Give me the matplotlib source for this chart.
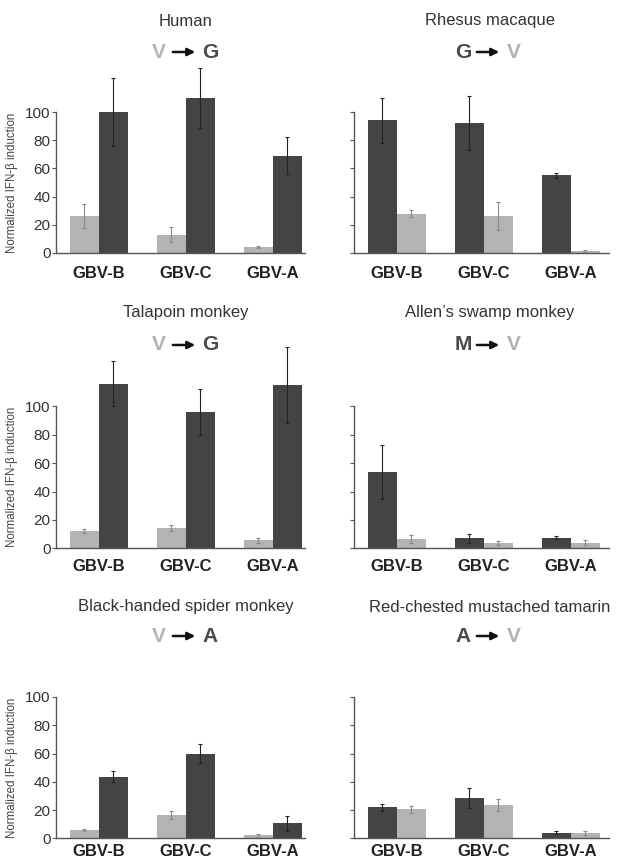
import matplotlib
matplotlib.use("Agg")
import matplotlib.pyplot as plt
import numpy as np
from matplotlib.patches import FancyArrowPatch

plt.rcParams['font.family'] = ['Liberation Sans', 'DejaVu Sans']

categories = ["GBV-B", "GBV-C", "GBV-A"]

titles = ["Human", "Rhesus macaque", "Talapoin monkey", "Allen\u2019s swamp monkey",
          "Black-handed spider monkey", "Red-chested mustached tamarin"]
from_res = ["V", "G", "V", "M", "V", "A"]
to_res = ["G", "V", "G", "V", "A", "V"]

# first bar (residue before) and second bar (residue after)
human_first = [26, 13, 4.5]
human_first_err = [8.5, 5.5, 0.7]
human_second = [100, 110, 69]
human_second_err = [24, 21, 13]

rhesus_first = [94, 92, 55]
rhesus_first_err = [16, 19, 2]
rhesus_second = [28, 26, 1.5]
rhesus_second_err = [2.5, 10, 0.5]

talapoin_first = [12, 14.5, 5.5]
talapoin_first_err = [1.5, 2, 1.5]
talapoin_second = [116, 96, 115]
talapoin_second_err = [16, 16, 27]

allen_first = [54, 7, 7.5]
allen_first_err = [19, 3, 1]
allen_second = [6.5, 3.5, 4]
allen_second_err = [3, 1.5, 1.5]

spider_first = [6, 16.5, 2]
spider_first_err = [0.7, 3, 0.8]
spider_second = [43.5, 60, 10.5]
spider_second_err = [4, 7, 5]

tamarin_first = [22, 28.5, 4]
tamarin_first_err = [2.5, 7, 1]
tamarin_second = [20.5, 23.5, 4]
tamarin_second_err = [2.5, 4.5, 1.5]

panels = [
    (human_first, human_first_err, human_second, human_second_err),
    (rhesus_first, rhesus_first_err, rhesus_second, rhesus_second_err),
    (talapoin_first, talapoin_first_err, talapoin_second, talapoin_second_err),
    (allen_first, allen_first_err, allen_second, allen_second_err),
    (spider_first, spider_first_err, spider_second, spider_second_err),
    (tamarin_first, tamarin_first_err, tamarin_second, tamarin_second_err),
]

LIGHT = "#b3b3b3"
DARK = "#444444"
LIGHT_ERR = "#8a8a8a"
DARK_ERR = "#222222"

W, H = 617, 864
fig = plt.figure(figsize=(W / 100, H / 100), dpi=100)

col_x = [(56, 305, (-0.494, 2.37)), (354, 609, (-0.49, 2.44))]
row_y = [(253, 112), (548.3, 406.3), (838.3, 697)]
title_y = [21, 312, 607]
sub_y = [52, 345, 636]
title_x = [186, 490]
xpad = [9, 8, 4]

bw = 0.333
x = np.arange(len(categories))

for i, (f, fe, s, se) in enumerate(panels):
    r, c = divmod(i, 2)
    xl, xr, xlim = col_x[c]
    y0, y100 = row_y[r]
    ax = fig.add_axes([xl / W, 1 - y0 / H, (xr - xl) / W, (y0 - y100) / H])
    ax.set_xlim(*xlim)
    ax.set_ylim(0, 100)
    c1 = LIGHT if from_res[i] == "V" else DARK
    c2 = LIGHT if to_res[i] == "V" else DARK
    e1 = LIGHT_ERR if from_res[i] == "V" else DARK_ERR
    e2 = LIGHT_ERR if to_res[i] == "V" else DARK_ERR
    ax.bar(x - bw / 2, f, bw, color=c1, clip_on=False, zorder=2)
    ax.bar(x + bw / 2, s, bw, color=c2, clip_on=False, zorder=2)
    for xs, v, e, ec in [(x - bw / 2, f, fe, e1), (x + bw / 2, s, se, e2)]:
        eb = ax.errorbar(xs, v, yerr=e, fmt="none", ecolor=ec, elinewidth=0.8,
                         capsize=1.5, capthick=0.8, zorder=3)
        for art in list(eb.lines[1]) + list(eb.lines[2]):
            art.set_clip_on(False)
    for sp in ["top", "right"]:
        ax.spines[sp].set_visible(False)
    for sp in ["left", "bottom"]:
        ax.spines[sp].set_color("#555555")
        ax.spines[sp].set_linewidth(1.0)
    ax.spines["left"].set_bounds(0, 100)
    ax.set_yticks([0, 20, 40, 60, 80, 100])
    ax.tick_params(axis="y", direction="out", length=3, width=0.8, color="#555555",
                   pad=1, labelsize=11, labelcolor="#333333")
    if c == 1:
        ax.set_yticklabels([])
    else:
        ax.set_ylabel("Normalized IFN-\u03b2 induction", fontsize=8.3, color="#444444",
                      labelpad=2)
        ax.yaxis.set_label_coords((18 - xl) / (xr - xl), 0.5)
    ax.set_xticks(x)
    ax.set_xticklabels(categories, fontsize=12, fontweight="bold", color="#222222")
    ax.tick_params(axis="x", length=0, pad=xpad[r])
    ax.patch.set_visible(False)

    tx = title_x[c] / W
    fig.text(tx, 1 - title_y[r] / H, titles[i], ha="center", va="center",
             fontsize=12, color="#333333")
    sy = 1 - sub_y[r] / H
    col_from = LIGHT if from_res[i] == "V" else "#4a4a4a"
    col_to = LIGHT if to_res[i] == "V" else "#4a4a4a"
    fig.text((tx * W - 27) / W, sy, from_res[i], ha="center", va="center",
             fontsize=15, fontweight="bold", color=col_from)
    fig.text((tx * W + 24) / W, sy, to_res[i], ha="center", va="center",
             fontsize=15, fontweight="bold", color=col_to)
    arr = FancyArrowPatch(((tx * W - 16) / W, sy), ((tx * W + 12) / W, sy),
                          transform=fig.transFigure, arrowstyle="-|>",
                          mutation_scale=11, lw=1.8, color="#111111")
    fig.add_artist(arr)

fig.savefig("out.png", dpi=100, facecolor="white")
